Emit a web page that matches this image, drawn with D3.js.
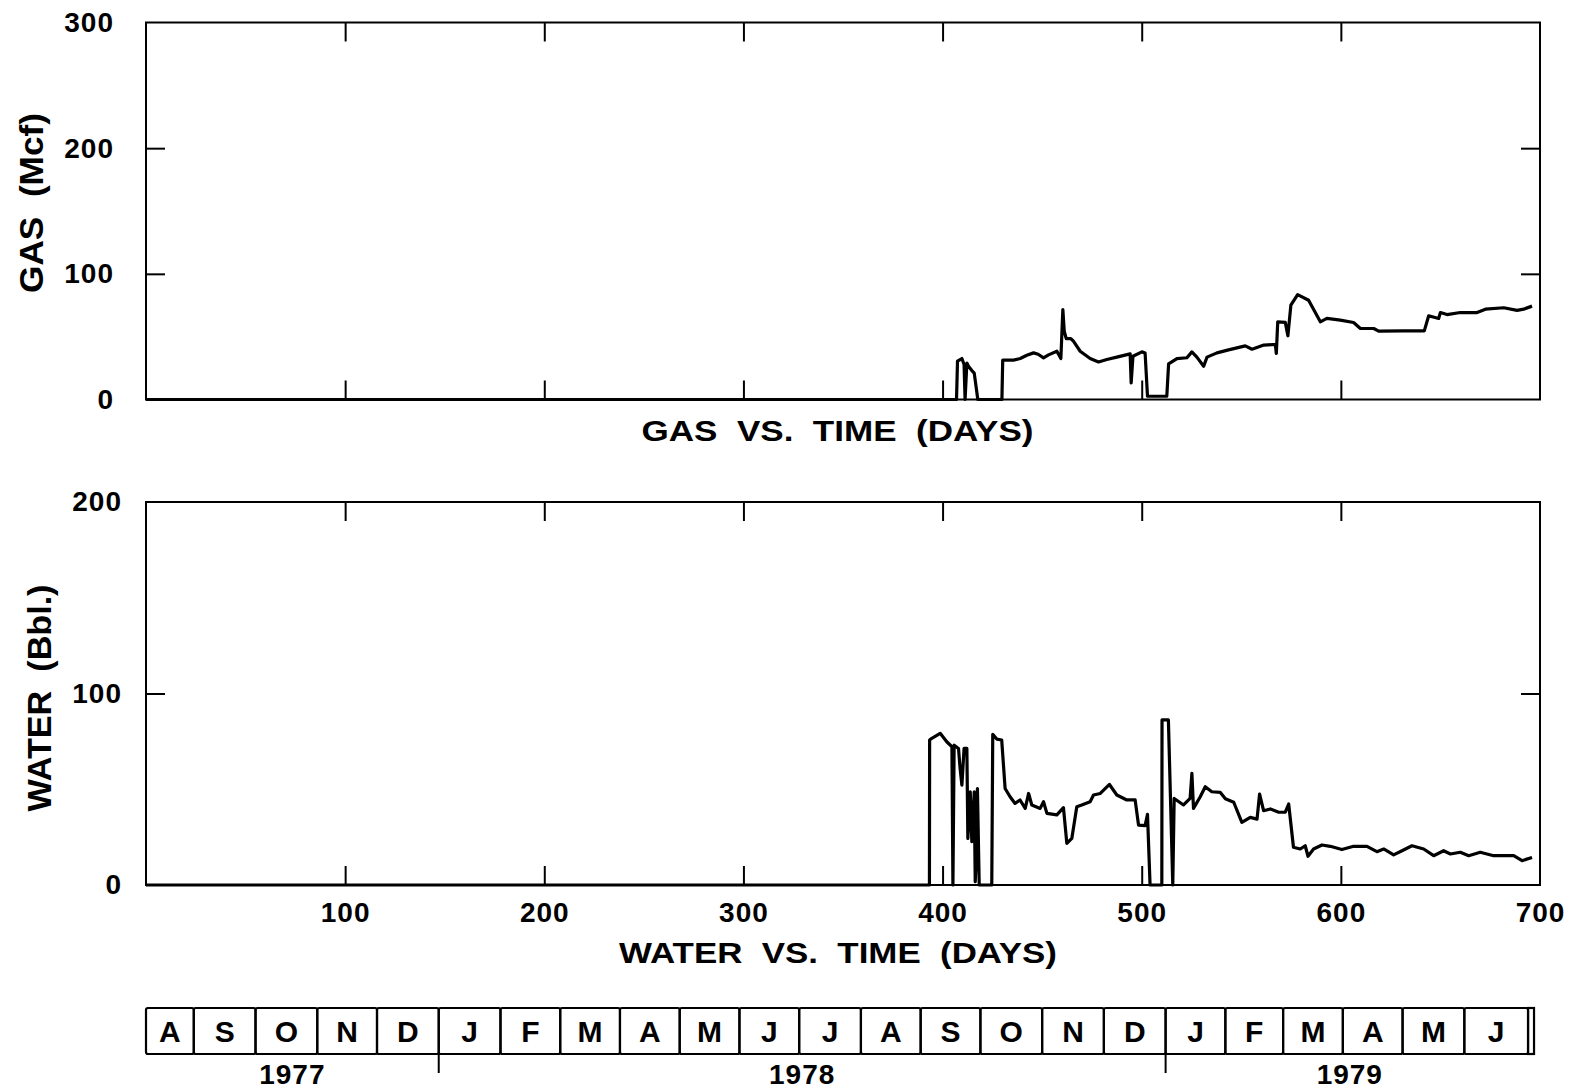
<!DOCTYPE html>
<html><head><meta charset="utf-8">
<script src="https://cdn.jsdelivr.net/npm/d3@7"></script>
<style>
body{margin:0;background:#fff}
svg{display:block}
text{font-family:"Liberation Sans",Arial,Helvetica,sans-serif;font-weight:bold;fill:#000}
.tick text{font-size:28px;letter-spacing:1px}
.mon{font-size:30px}
.yr{font-size:28px;letter-spacing:1px}
.ttl{font-size:29px;white-space:pre}
.vttl{font-size:34px;white-space:pre}
</style>
</head><body>
<svg id="c" width="1586" height="1089"></svg>
<script>
// ---- data ----
const xTicks = [100, 200, 300, 400, 500, 600, 700];
const gasTicks = [0, 100, 200, 300];
const waterTicks = [0, 100, 200];

const gasDays = [0, 407, 407.5, 409.7, 410.8, 411.3, 412.2, 413, 414.7, 415.9, 417.7,
  429.8, 430.2, 435.6, 439, 442.3, 445.7, 448, 450.7, 453.2, 457.4, 459.4, 460.4, 461.1, 462.1, 464.4, 465.7,
  469.1, 474.1, 478.3, 482.5, 487.5, 494.2, 494.7, 495.6, 500.1, 501.7, 502.9, 512.6, 513.5, 517.7, 522.7,
  525.2, 527.7, 531.1, 532.8, 537.8, 543.6, 552, 555.4, 561.3, 567.1, 567.6, 568.3, 572.1, 573.4, 574.9,
  578.3, 583.8, 589.7, 593, 599.7, 606.4, 609.8, 616.5, 619, 631.5, 641.9, 644.1, 649.1, 650, 653.3, 660,
  668.4, 672.6, 681.8, 688.5, 691.8, 696];
const gasValues = [0, 0, 30.5, 32.6, 27.8, 0, 29, 26.5, 23, 21, 0,
  0, 31.3, 31.3, 32.6, 35.2, 37.1, 36, 33.1, 35.5, 38.4, 32.6, 71.6, 54.3, 48.5, 48.5, 46.4,
  38.4, 32.6, 29.9, 31.8, 33.7, 36.3, 13.2, 34.4, 37.9, 37, 2.6, 2.6, 28.3, 32.6, 33.2,
  37.9, 33.7, 26.5, 33.7, 37.1, 39.5, 42.7, 40, 43.3, 43.8, 36.6, 61.8, 61.3, 50.7, 75.1,
  83.5, 79, 61.8, 64.5, 63.2, 61.3, 56.5, 56.5, 54.4, 54.6, 54.6, 66.6, 64.5, 69.2, 67.6, 69.2,
  69.2, 71.9, 73, 70.9, 71.9, 74.3];

const waterDays = [0, 393.4, 393.5, 394.6, 398.8, 402.1, 404.7, 405.2, 405.8, 408, 408.8, 409.7, 410.8,
  412.2, 412.7, 413.9, 414.7, 415.9, 416.4, 416.9, 417.5, 418.4, 424.7, 425.2, 427.2, 429.7, 431.4,
  433.9, 436.4, 438.9, 441.5, 443.2, 444.8, 449, 450.7, 452.4, 457.4, 460.7, 462.4, 464.9, 467.4,
  469.9, 474.1, 475.8, 479.2, 483.8, 487.5, 492.5, 496.7, 498.4, 501.7, 502.9, 504.2, 510.1, 510.2,
  513.4, 515.6, 516.3, 521, 524.3, 525.2, 526, 529.4, 531.9, 535.2, 539.4, 542, 546.2, 550.3, 554.5,
  557.9, 559.2, 561.2, 564.6, 568.8, 572.1, 573.8, 576.2, 579.6, 582.1, 583.5, 586.3, 590.5, 594.7,
  600.5, 606.4, 613.1, 618.1, 621.5, 626.5, 630.7, 635.7, 641.6, 646.6, 651.6, 655, 660, 664.2, 670,
  676.7, 686.8, 691, 696];
const waterValues = [0, 0, 75.7, 76.6, 79.2, 74.8, 72.2, 0, 73, 71.3, 60.9, 52.2, 71.3,
  71.3, 24.3, 48.7, 22.6, 48.7, 1.7, 13.9, 50.4, 0, 0, 78.7, 76.2, 75.7, 50.4,
  46.1, 42.6, 44.4, 40, 47.8, 41.8, 40, 43.5, 37.4, 36.6, 40.4, 21.7, 24.3, 40.9,
  41.8, 43.5, 47, 47.8, 52.5, 47, 44.4, 44.4, 31.3, 31, 36.9, 0, 0, 86.2,
  86.2, 0, 45.2, 41.8, 45.2, 58.3, 40, 46.1, 51.3, 48.7, 48.4, 45, 43.2, 32.7, 35.3,
  34.4, 47.5, 38.8, 39.7, 38, 38, 42.3, 19.7, 18.8, 20.5, 15, 18.8, 20.9, 20.2,
  18.5, 20.2, 20.2, 17.4, 18.8, 15.7, 17.9, 20.5, 18.8, 15.3, 17.9, 16.2, 17.1, 15.3, 17.1,
  15.3, 15.3, 12.7, 14.4];

const months = ["A","S","O","N","D","J","F","M","A","M","J","J","A","S","O","N","D","J","F","M","A","M","J"];
const monthBoundaryDays = [0, 24, 55, 86, 116, 147, 178, 208, 238, 268, 298, 328, 359, 389, 419, 450, 481, 512, 542, 571, 601, 631, 662, 694];
const stripEndDay = 697;
const years = ["1977", "1978", "1979"];
const yearBoundaryDays = [0, 147, 512, 697];

// ---- drawing ----
const svg = d3.select('#c');
const x = d3.scaleLinear().domain([0, 700]).range([146, 1540]);
const yG = d3.scaleLinear().domain([0, 300]).range([399.5, 22.5]);
const yW = d3.scaleLinear().domain([0, 200]).range([885, 502]);
const TICK = 19;

function clean(sel) {
  sel.select('.domain').remove();
  sel.attr('font-size', null).attr('font-family', null);
  sel.selectAll('line').attr('stroke', '#000').attr('stroke-width', 2);
}

function panel(y, yTicks, labelPad, xLabels) {
  const [y0, y1] = y.range();
  const g = svg.append('g');
  const innerX = xTicks.filter(v => v < 700);
  const innerY = yTicks.slice(1, -1);
  g.append('g').attr('transform', `translate(0,${y0})`)
    .call(d3.axisBottom(x).tickValues(innerX).tickSizeInner(-TICK).tickSizeOuter(0).tickFormat(''))
    .call(clean);
  g.append('g').attr('transform', `translate(0,${y1})`)
    .call(d3.axisTop(x).tickValues(innerX).tickSizeInner(-TICK).tickSizeOuter(0).tickFormat(''))
    .call(clean);
  g.append('g').attr('transform', `translate(${x(700)},0)`)
    .call(d3.axisRight(y).tickValues(innerY).tickSizeInner(-TICK).tickSizeOuter(0).tickFormat(''))
    .call(clean);
  g.append('g').attr('transform', `translate(${x(0)},0)`)
    .call(d3.axisLeft(y).tickValues(yTicks).tickSizeInner(0).tickSizeOuter(0).tickPadding(labelPad))
    .call(clean);
  g.append('g').attr('transform', `translate(${x(0)},0)`)
    .call(d3.axisLeft(y).tickValues(innerY).tickSizeInner(-TICK).tickSizeOuter(0).tickFormat(''))
    .call(clean);
  if (xLabels) {
    g.append('g').attr('transform', `translate(0,${y0})`)
      .call(d3.axisBottom(x).tickValues(xTicks).tickSizeInner(0).tickSizeOuter(0).tickPadding(17))
      .call(clean);
  }
  g.append('rect').attr('x', x(0)).attr('y', y1)
    .attr('width', x(700) - x(0)).attr('height', y0 - y1)
    .attr('fill', 'none').attr('stroke', '#000').attr('stroke-width', 2);
  return g;
}

const gGas = panel(yG, gasTicks, 32, false);
const gWat = panel(yW, waterTicks, 24, true);

const lineG = d3.line().x(d => x(d[0])).y(d => yG(d[1]));
const lineW = d3.line().x(d => x(d[0])).y(d => yW(d[1]));
gGas.append('path').datum(d3.zip(gasDays, gasValues)).attr('d', lineG)
  .attr('fill', 'none').attr('stroke', '#000').attr('stroke-width', 3.2).attr('stroke-linejoin', 'round');
gWat.append('path').datum(d3.zip(waterDays, waterValues)).attr('d', lineW)
  .attr('fill', 'none').attr('stroke', '#000').attr('stroke-width', 3.2).attr('stroke-linejoin', 'round');

// axis titles
svg.append('text').attr('class', 'vttl').attr('text-anchor', 'middle')
  .attr('transform', 'translate(43,203) rotate(-90)')
  .attr('textLength', 180).attr('lengthAdjust', 'spacingAndGlyphs')
  .text('GAS  (Mcf)');
svg.append('text').attr('class', 'vttl').attr('text-anchor', 'middle')
  .attr('transform', 'translate(51,698) rotate(-90)')
  .attr('textLength', 227).attr('lengthAdjust', 'spacingAndGlyphs')
  .text('WATER  (Bbl.)');
svg.append('text').attr('class', 'ttl').attr('text-anchor', 'middle')
  .attr('x', 837.5).attr('y', 441)
  .attr('textLength', 392).attr('lengthAdjust', 'spacingAndGlyphs')
  .text('GAS  VS.  TIME  (DAYS)');
svg.append('text').attr('class', 'ttl').attr('text-anchor', 'middle')
  .attr('x', 838).attr('y', 963)
  .attr('textLength', 438).attr('lengthAdjust', 'spacingAndGlyphs')
  .text('WATER  VS.  TIME  (DAYS)');

// month strip
const sTop = 1008, sBot = 1054;
const strip = svg.append('g');
months.forEach((m, i) => {
  const a = x(monthBoundaryDays[i]), b = x(monthBoundaryDays[i + 1]);
  strip.append('rect').attr('x', a).attr('y', sTop).attr('width', b - a).attr('height', sBot - sTop)
    .attr('rx', 2).attr('fill', 'none').attr('stroke', '#000').attr('stroke-width', 2.2);
  strip.append('text').attr('class', 'mon').attr('text-anchor', 'middle')
    .attr('x', (a + b) / 2).attr('y', 1042).text(m);
});
{
  const a = x(monthBoundaryDays[monthBoundaryDays.length - 1]), b = x(stripEndDay);
  strip.append('rect').attr('x', a).attr('y', sTop).attr('width', b - a).attr('height', sBot - sTop)
    .attr('fill', 'none').attr('stroke', '#000').attr('stroke-width', 2.2);
}
yearBoundaryDays.slice(1, -1).forEach(d => {
  strip.append('line').attr('x1', x(d)).attr('x2', x(d)).attr('y1', sBot).attr('y2', 1073)
    .attr('stroke', '#000').attr('stroke-width', 2);
});
years.forEach((yv, i) => {
  const c = (x(yearBoundaryDays[i]) + x(yearBoundaryDays[i + 1])) / 2;
  strip.append('text').attr('class', 'yr').attr('text-anchor', 'middle')
    .attr('x', c).attr('y', 1084).text(yv);
});
</script>
</body></html>
